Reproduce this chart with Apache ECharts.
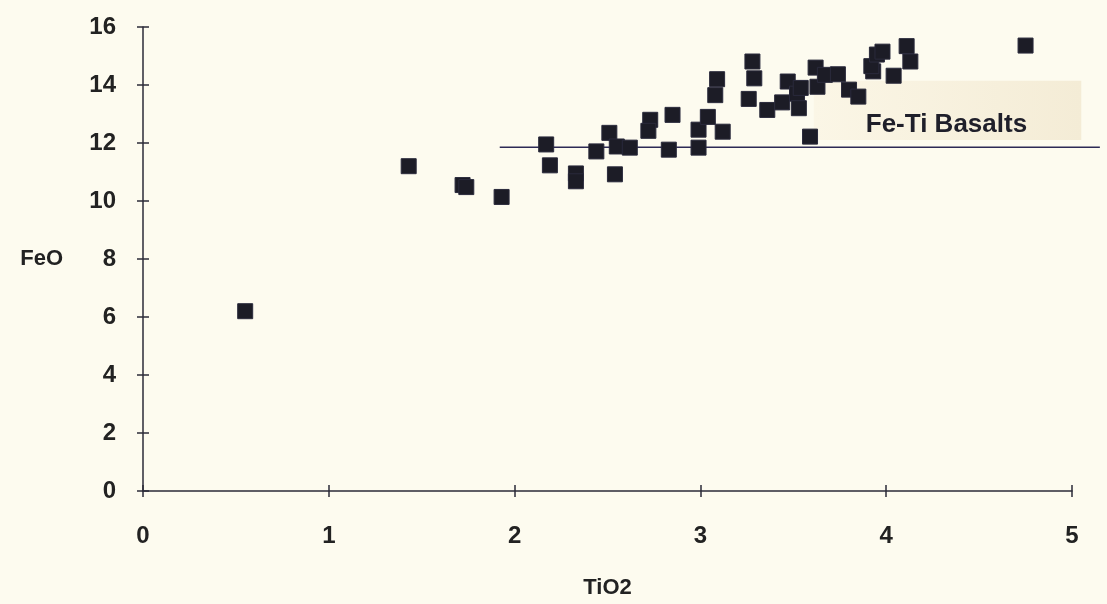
<!DOCTYPE html>
<html>
<head>
<meta charset="utf-8">
<script src="https://cdn.jsdelivr.net/npm/echarts@6/dist/echarts.min.js"></script>
<style>
html,body{margin:0;padding:0;background:#fdfbef;overflow:hidden;}
#chart{width:1107px;height:604px;}
</style>
</head>
<body>
<div id="chart"></div>
<script>
// TiO2 (x) and FeO (y) values
var tio2 = [0.55, 1.43, 1.72, 1.74, 1.93, 2.17, 2.19, 2.33, 2.33, 2.44,
            2.51, 2.55, 2.54, 2.62, 2.73, 2.72, 2.85, 2.83, 2.99, 2.99,
            3.04, 3.12, 3.08, 3.09, 3.26, 3.28, 3.29, 3.36, 3.44, 3.47,
            3.52, 3.54, 3.53, 3.59, 3.62, 3.63, 3.67, 3.74, 3.80, 3.85,
            3.93, 3.92, 3.95, 3.98, 4.04, 4.11, 4.13, 4.75];
var feo  = [6.2, 11.2, 10.55, 10.48, 10.14, 11.95, 11.23, 10.95, 10.68, 11.71,
            12.35, 11.88, 10.92, 11.84, 12.8, 12.42, 12.97, 11.77, 12.46, 11.84,
            12.9, 12.39, 13.65, 14.2, 13.52, 14.81, 14.23, 13.14, 13.4, 14.12,
            13.7, 13.9, 13.2, 12.22, 14.6, 13.94, 14.35, 14.37, 13.84, 13.6,
            14.47, 14.65, 15.05, 15.15, 14.32, 15.34, 14.81, 15.36];
var xTicks = [0, 1, 2, 3, 4, 5];
var yTicks = [0, 2, 4, 6, 8, 10, 12, 14, 16];
// Fe-Ti basalt field annotation (data units)
var basaltLineX = [1.92, 5.15];
var basaltLineY = 11.85;
var basaltBoxX = [3.61, 5.05];
var basaltBoxY = [12.1, 14.15];
var basaltLabel = 'Fe-Ti Basalts';
var basaltLabelPos = [3.89, 12.62];

var points = tio2.map(function (x, i) { return [x, feo[i]]; });

var el = document.getElementById('chart');
var chart = echarts.init(el);
var axisCol = '#2b2b38';
var fontFam = '"Liberation Sans", Arial, Helvetica, sans-serif';
var xMin = xTicks[0], xMax = xTicks[xTicks.length - 1];
var yMin = yTicks[0], yMax = yTicks[yTicks.length - 1];

chart.setOption({
  backgroundColor: '#fdfbef',
  animation: false,
  grid: { left: 143, right: 35, top: 27, bottom: 108, containLabel: false },
  xAxis: [{
    type: 'value', min: xMin, max: xMax, interval: 1,
    name: 'TiO2', nameLocation: 'middle', nameGap: 86,
    nameTextStyle: { fontFamily: fontFam, fontWeight: 'bold', fontSize: 22, color: '#222' },
    axisLine: { show: true, onZero: false, lineStyle: { color: axisCol, width: 1.5 } },
    axisTick: { show: true, inside: false, length: 6, lineStyle: { color: axisCol, width: 1.5 } },
    axisLabel: { margin: 33, fontFamily: fontFam, fontWeight: 'bold', fontSize: 24, color: '#222' },
    splitLine: { show: false }
  }, {
    type: 'value', min: xMin, max: xMax, interval: 1, position: 'bottom',
    axisLine: { show: false },
    axisTick: { show: true, inside: true, length: 6, lineStyle: { color: axisCol, width: 1.5 } },
    axisLabel: { show: false }, splitLine: { show: false }
  }],
  yAxis: [{
    type: 'value', min: yMin, max: yMax, interval: 2,
    name: 'FeO', nameLocation: 'middle', nameRotate: 0, nameGap: 80,
    nameTextStyle: { fontFamily: fontFam, fontWeight: 'bold', fontSize: 22, color: '#222', padding: [26, 0, 0, 0] },
    axisLine: { show: true, onZero: false, lineStyle: { color: axisCol, width: 1.5 } },
    axisTick: { show: true, inside: false, length: 6, lineStyle: { color: axisCol, width: 1.5 } },
    axisLabel: { margin: 27, fontFamily: fontFam, fontWeight: 'bold', fontSize: 24, color: '#222' },
    splitLine: { show: false }
  }, {
    type: 'value', min: yMin, max: yMax, interval: 2, position: 'left',
    axisLine: { show: false },
    axisTick: { show: true, inside: true, length: 6, lineStyle: { color: axisCol, width: 1.5 } },
    axisLabel: { show: false }, splitLine: { show: false }
  }],
  series: [{
    type: 'scatter',
    xAxisIndex: 0, yAxisIndex: 0,
    symbol: 'rect', symbolSize: 15,
    itemStyle: { color: '#1c1c26', borderColor: '#2a2a3c', borderWidth: 1, opacity: 1 },
    data: points,
    z: 5
  }]
});

function px(x, y) { return chart.convertToPixel({ gridIndex: 0 }, [x, y]); }
var b0 = px(basaltBoxX[0], basaltBoxY[1]);
var b1 = px(basaltBoxX[1], basaltBoxY[0]);
var l0 = px(basaltLineX[0], basaltLineY);
var l1 = px(basaltLineX[1], basaltLineY);
var tp = px(basaltLabelPos[0], basaltLabelPos[1]);

chart.setOption({
  graphic: [{
    type: 'rect', z: 1,
    shape: { x: b0[0], y: b0[1], width: b1[0] - b0[0], height: b1[1] - b0[1] },
    style: {
      fill: new echarts.graphic.LinearGradient(0, 0, 1, 0, [
        { offset: 0, color: '#fbf6e6' }, { offset: 1, color: '#f4ecd6' }
      ])
    }
  }, {
    type: 'line', z: 2,
    shape: { x1: l0[0], y1: l0[1], x2: l1[0], y2: l1[1] },
    style: { stroke: '#2d2a55', lineWidth: 1.5 }
  }, {
    type: 'text', z: 3,
    x: tp[0], y: tp[1],
    style: {
      text: basaltLabel, fill: '#1f1f2a',
      font: 'bold 26px "Liberation Sans", Arial, sans-serif',
      textAlign: 'left', textVerticalAlign: 'middle'
    }
  }]
});
</script>
</body>
</html>
